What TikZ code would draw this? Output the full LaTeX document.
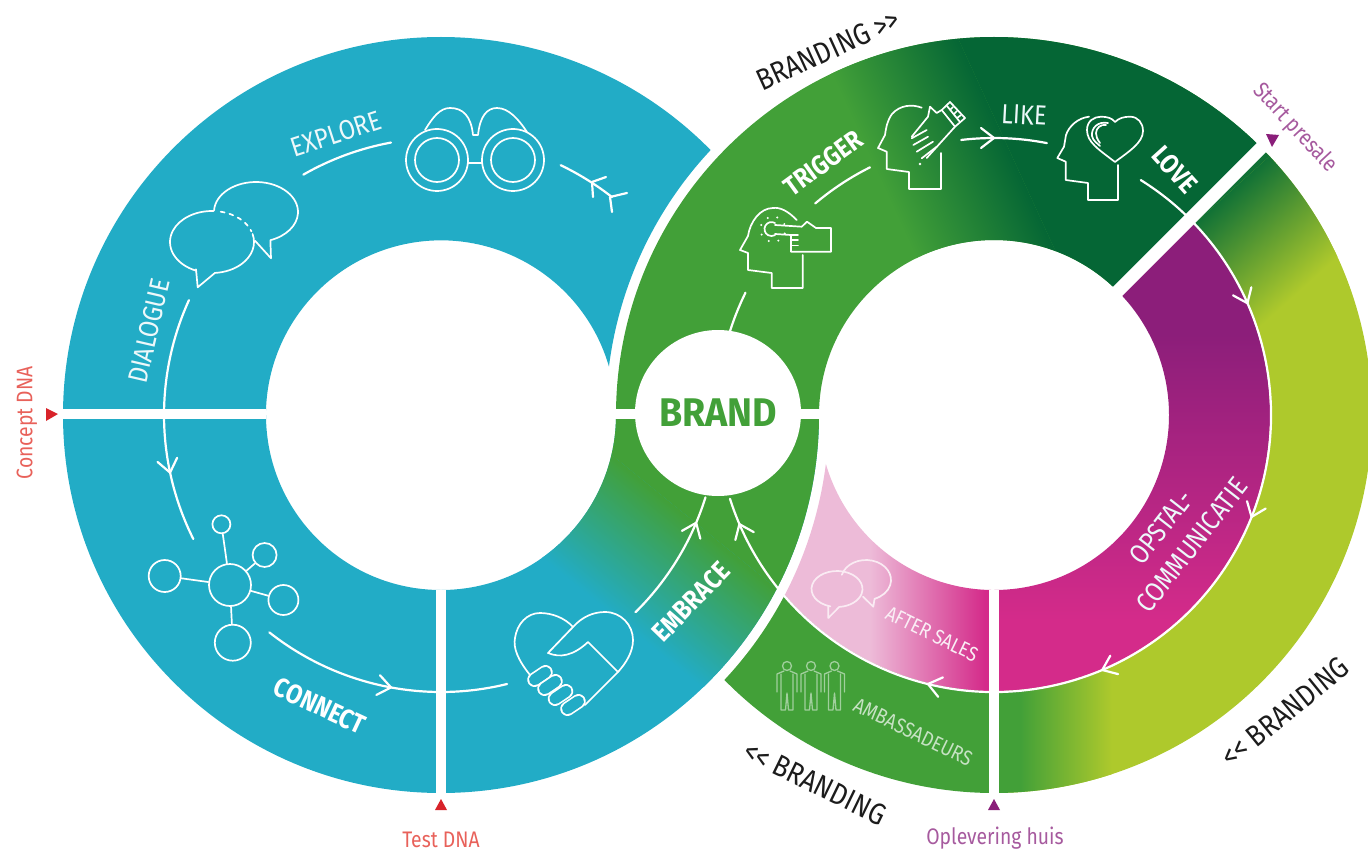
\documentclass[tikz,border=0pt]{standalone}
\usepackage{fontspec}
\setmainfont{Fira Sans}
\newfontfamily\labelFont[FakeStretch=0.86]{Fira Sans}
\newfontfamily\brandFont[FakeStretch=0.94]{Fira Sans}
\definecolor{tealRing}{HTML}{22ACC6}
\definecolor{greenRing}{HTML}{42A038}
\definecolor{darkRing}{HTML}{056635}
\definecolor{limeRing}{HTML}{AEC92C}
\definecolor{purpleRing}{HTML}{8C1E7A}
\definecolor{magentaRing}{HTML}{D42B8A}
\definecolor{paleRing}{HTML}{EDBBD8}
\definecolor{redMark}{HTML}{D8232A}
\definecolor{redText}{HTML}{E8615A}
\definecolor{purpleMark}{HTML}{8A1E7A}
\definecolor{purpleText}{HTML}{A65A9E}
\definecolor{inkText}{HTML}{1C1C1C}

\begin{document}
\begin{tikzpicture}
[x=1pt,y=-1pt,%
  flowLine/.style={draw=white,line width=2.2pt,line cap=round},%
  iconLine/.style={draw=white,line width=1.7pt,line join=round,line cap=round},%
  gapLine/.style={draw=white,line width=10pt},%
  netNode/.style={shape=circle,draw=white,line width=1.7pt,inner sep=0pt},%
  flowLabel/.style={text=white!92!tealRing,inner sep=0pt,font=\labelFont\fontsize{27.5}{29}\selectfont},%
  boldLabel/.style={text=white,inner sep=0pt,font=\labelFont\bfseries\fontsize{27}{29}\selectfont},%
  brandingLabel/.style={text=inkText,inner sep=0pt,font=\labelFont\fontsize{30}{32}\selectfont},%
  markLabel/.style={inner sep=0pt,font=\labelFont\fontsize{22.5}{24}\selectfont}]
\useasboundingbox (0,0) rectangle (1368,853);
\coordinate (leftC) at (441,415);
\coordinate (rightC) at (994,415);

%% left ring, upper half
\fill[tealRing] (leftC) ++(180:378) arc (180:315.5:378) arc (223.1:187.2:388) arc (343.8:180:175) -- cycle;

%% left ring, lower half into the green
\begin{scope}
\clip (leftC) ++(0:378) arc (0:180:378) -- ++(0:203) arc (180:0:175) -- cycle;
\fill[tealRing] (40,400) rectangle (840,800);
\shade[transform canvas={shift={(680,590)},rotate=51},left color=tealRing,right color=greenRing] (-62,-500) rectangle (62,500);
\fill[transform canvas={shift={(680,590)},rotate=51},greenRing] (62,-500) rectangle (500,500);
\end{scope}

%% right ring, upper arc
\begin{scope}
\clip (rightC) ++(180:378) arc (180:315:378) -- ++(135:203) arc (315:180:175) -- cycle;
\fill[greenRing] (600,0) rectangle (1300,430);
\shade[transform canvas={shift={(940,155)},rotate=24.6},left color=greenRing,right color=darkRing] (-65,-500) rectangle (65,500);
\fill[transform canvas={shift={(940,155)},rotate=24.6},darkRing] (65,-500) rectangle (600,500);
\end{scope}

%% right ring, outer band
\begin{scope}
\clip (rightC) ++(315:378) arc (315:450:378) -- ++(270:102) arc (90:-45:276) -- cycle;
\fill[limeRing] (980,100) rectangle (1400,800);
\fill[greenRing] (980,600) rectangle (1020,800);
\shade[left color=greenRing,right color=limeRing] (1020,600) rectangle (1112,800);
\shade[transform canvas={shift={(1275,232)},rotate=-48},left color=darkRing!80!greenRing,right color=limeRing] (-60,-150) rectangle (60,150);
\fill[transform canvas={shift={(1275,232)},rotate=-48},darkRing!80!greenRing] (-60,-150) rectangle (-170,150);
\end{scope}

%% right ring, inner band
\begin{scope}
\clip (rightC) ++(315:276) arc (315:450:276) -- ++(270:101) arc (90:-45:175) -- cycle;
\fill[purpleRing] (980,150) rectangle (1400,335);
\shade[top color=purpleRing,bottom color=magentaRing] (980,335) rectangle (1400,620);
\fill[magentaRing] (980,620) rectangle (1400,720);
\end{scope}

%% right ring, lower left pieces
\fill[greenRing] (rightC) ++(90:378) arc (90:135.5:378) arc (43.1:27.6:388) arc (139.3:90:276) -- cycle;
\begin{scope}
\clip (rightC) ++(90:276) arc (90:139.3:276) arc (27.6:7.2:388) arc (163.8:90:175) -- cycle;
\fill[paleRing] (760,450) rectangle (870,700);
\shade[left color=paleRing,right color=magentaRing] (870,450) rectangle (985,700);
\fill[magentaRing] (985,450) rectangle (1000,700);
\end{scope}

%% flow lines
\foreach \ringname/\startangle/\endangle in {leftC/204.5/153.4, leftC/128.3/76.2,
  leftC/45.4/17.3, leftC/240.2/259.6, leftC/295.6/308.1,
  rightC/197.5/206.2, rightC/229.8/243.4, rightC/263.2/281}
{
  \draw[flowLine] (\ringname) ++(\startangle:277) arc (\startangle:\endangle:277);
}
\draw[flowLine] (rightC) ++(302:277) arc (302:522.4:277);
%% arrow marks on the flow lines, dir is 1 with the clock
\foreach \ringname/\angle/\dir in {leftC/168/-1, leftC/100.4/-1, leftC/22.9/-1,
  rightC/270/1, rightC/336.2/1, rightC/21.6/1, rightC/67/1, rightC/103.8/1, rightC/156.8/1}
{
  \draw[flowLine,shift={(\ringname)},rotate=-\angle] (287,-13*\dir) -- (277,0) -- (267,-13*\dir);
}
%% feathers
\draw[flowLine] (592,182) -- (606,177) (592,182) -- (593,197) (610,197) -- (627,193) (610,197) -- (612,212);

%% white gaps
\coordinate (gapA) at (50,414);
\coordinate (gapB) at (266,414);
\coordinate (gapC) at (441,590);
\coordinate (gapD) at (441,800);
\coordinate (gapE) at (994,590);
\coordinate (gapF) at (994,800);
\coordinate (gapG) at (612,414);
\coordinate (gapH) at (824,414);
\draw[gapLine] (gapA) -- (gapB);
\draw[gapLine] (gapC) -- (gapD);
\draw[gapLine] (gapE) -- (gapF);
\draw[gapLine] (gapG) -- (gapH);
\draw[gapLine,line width=13pt] (rightC) ++(315:170) -- ++(315:230);

%% centre
\node (brand) at (718,413) [shape=circle,fill=white,minimum size=166pt,inner sep=0pt,text=greenRing,font=\brandFont\bfseries\fontsize{40}{42}\selectfont] {BRAND};

%% binoculars
\foreach \x in {437,513}
{
  \draw[iconLine] (\x,160) circle (31);
  \draw[iconLine] (\x,160) circle (22);
}
\draw[iconLine] (468,163) -- (482,163);
\draw[iconLine] (425,130) .. controls (433,117) and (440,108) .. (450,108) .. controls (463,108) and (471,116) .. (473,135) -- (478,135) .. controls (480,116) and (487,108) .. (497,108) .. controls (509,108) and (519,120) .. (527,132);

%% speech bubbles
\draw[iconLine] (212,242) ++(112:42 and 31) arc (112:272:42 and 31);
\draw[iconLine,dash pattern=on 4pt off 5pt] (212,242) ++(282:42 and 31) arc (282:340:42 and 31);
\draw[iconLine] (212,242) ++(345:42 and 31) arc (345:446:42 and 31) -- (197.7,287.3) -- (196,269.3);
\draw[iconLine] (256,212) ++(183:42 and 30) arc (183:430:42 and 30) -- (271,258.3) -- (255,240.7);

%% network
\foreach \nodename/\x/\y/\size in {hub/230/585/42, netA/221.4/524.3/18, netB/264.6/555/24, netC/283.4/600/30, netD/232.8/642.7/36, netE/164.7/576/32}
{
  \node (\nodename) at (\x,\y) [netNode,minimum size=\size pt] {};
}
\foreach \endnode in {netA,netB,netC,netD,netE}
{
  \draw[iconLine] (hub) -- (\endnode);
}

%% handshake
\draw[iconLine] (530,675) .. controls (518,660) and (513,648) .. (515,638) .. controls (517,624) and (527,613) .. (540,613) .. controls (552,613) and (565,618) .. (573,627) .. controls (582,617) and (593,612) .. (605,612) .. controls (621,612) and (633,625) .. (633,640) .. controls (633,652) and (626,663) .. (618,672) -- (585,705);
\draw[iconLine] (573,627) -- (548,653) .. controls (560,658) and (573,656) .. (588,642) -- (618,672);
\foreach \x/\y in {540/676, 550/685, 560.5/695, 573/705}
{
  \draw[draw=white,line width=14.5pt,line cap=round] (\x-5.5,\y+3.7) -- (\x+5.5,\y-3.7);
  \draw[draw=tealRing,line width=11.1pt,line cap=round] (\x-5.5,\y+3.7) -- (\x+5.5,\y-3.7);
}

%% head with finger
\draw[iconLine] (796.7,220) .. controls (788,211) and (780,207) .. (773,208) .. controls (760,208) and (750,222) .. (748,236) -- (740,250) -- (748,253) -- (748,270) -- (771.7,273) -- (771.7,288) -- (802.7,288) -- (802.7,255);
\draw[iconLine] (775,225) -- (801.7,226.7) -- (807,221.7) -- (816,228) -- (831,228) -- (831,251.7) -- (791,251.7) -- (791,235) -- (775,234);
\draw[iconLine] (791,240) -- (798,240) (791,245.5) -- (798,245.5) (791,235) -- (798,235);
\draw[iconLine] (775,223) arc (-60:-300:7);
\foreach \angle in {0,45,...,315}
{
  \fill[white] (773,229.3) ++(\angle+20:12.5) circle (1.1);
}

%% head with glove
\draw[iconLine] (921.7,107.7) .. controls (912,104) and (900,105) .. (892,114) .. controls (887,121) and (886,128) .. (885,135) -- (878,148) -- (886.7,151.7) -- (886.7,169) -- (909,172) -- (909,189) -- (941,189) -- (941,153);
\draw[iconLine] (950,102) -- (965,118) -- (955,126.7) -- (926.7,158);
\draw[iconLine] (950,102) -- (941.7,110) -- (955,126.7);
\draw[iconLine] (930,106.7) -- (936.7,113) -- (941.7,110) (930,106.7) -- (928,116.7) -- (911.7,136.7);
\draw[iconLine] (947,106) -- (960,122) (950,110) -- (953,107) (954,114) -- (957,111) (957,118) -- (961,115);
\draw[iconLine] (926.7,130) -- (911.7,138.3) (928,136.7) -- (913.3,145) (933,141.7) -- (916.7,151.7) (936.7,146.7) -- (921.7,158.3);
\fill[white] (920,164) circle (1.3);

%% head with heart
\draw[iconLine] (1089,116.7) .. controls (1078,118) and (1069,126) .. (1066,135) -- (1064,146.7) -- (1057.3,158) -- (1065.7,161.7) -- (1065.7,180) -- (1088,183) -- (1088,200) -- (1118,200) -- (1118,165);
\draw[iconLine] (1115,162) .. controls (1098,149) and (1087,142) .. (1087,130) .. controls (1087,121) and (1094,116.7) .. (1101,116.7) .. controls (1107,116.7) and (1112,118) .. (1115,122) .. controls (1119,118) and (1124,116.7) .. (1130,116.7) .. controls (1138,116.7) and (1143,123) .. (1143,131) .. controls (1143,143) and (1128,152) .. (1115,162);
\draw[iconLine] (1108,123) .. controls (1098,121) and (1091,128) .. (1092,136) .. controls (1093,141) and (1097,143) .. (1100,146);
\draw[iconLine] (1106,125) .. controls (1101,124) and (1096,128) .. (1096,133) .. controls (1096,136) and (1097,139) .. (1100,143);

%% after sales bubbles
\draw[iconLine,draw=white!70!paleRing] (837,589) ++(105:25.5 and 18) arc (105:445:25.5 and 18) -- (828.3,618) -- (828.3,606);
\draw[iconLine,draw=white!70!paleRing] (866,580) ++(195:25 and 20) arc (195:430:25 and 20) -- (873.3,606.7) -- (863,596.7);

%% ambassadors
\foreach \x in {787,811,834.5}
{
  \begin{scope}[shift={(\x,666)}]
    \draw[iconLine,draw=white!50!greenRing,line width=1.3pt] (0,0) circle (4.5);
    \draw[iconLine,draw=white!50!greenRing,line width=1.3pt] (-3,5) -- (-10,8) -- (-10,26) (3,5) -- (10,8) -- (10,26);
    \draw[iconLine,draw=white!50!greenRing,line width=1.3pt] (-6,8) -- (-6,44) -- (-1.5,44) -- (0,27) -- (1.5,44) -- (6,44) -- (6,8);
  \end{scope}
}

%% labels on the rings
\node (explore) at (336,134) [flowLabel,rotate=18] {EXPLORE};
\node (dialogue) at (149,331) [flowLabel,rotate=77] {DIALOGUE};
\node (connect) at (320,706) [boldLabel,rotate=-25] {CONNECT};
\node (embrace) at (691,602) [boldLabel,rotate=46] {EMBRACE};
\node (trigger) at (823,163) [boldLabel,rotate=36] {TRIGGER};
\node (like) at (1024,115) [flowLabel,rotate=-3] {LIKE};
\node (love) at (1175,170) [boldLabel,rotate=-48] {LOVE};
\node (opstal) at (1161,527) [flowLabel,rotate=52] {OPSTAL-};
\node (communicatie) at (1192,545) [flowLabel,rotate=52] {COMMUNICATIE};
\node (aftersales) at (932,634) [flowLabel,rotate=-26,text=white!75!paleRing,font=\labelFont\fontsize{20.5}{22}\selectfont] {AFTER SALES};
\node (ambassadeurs) at (913,732) [flowLabel,rotate=-26,text=white!70!greenRing,font=\labelFont\fontsize{21}{23}\selectfont] {AMBASSADEURS};

%% labels outside
\node (brandA) at (828,50) [brandingLabel,rotate=24.5] {BRANDING >>};
\node (brandB) at (815,783) [brandingLabel,rotate=-26] {<< BRANDING};
\node (brandC) at (1285,712) [brandingLabel,rotate=39] {<< BRANDING};
\node (conceptdna) at (27,423) [markLabel,rotate=90,text=redText] {Concept DNA};
\node (testdna) at (441,840) [markLabel,text=redText] {Test DNA};
\node (oplevering) at (995,838) [markLabel,text=purpleText] {Oplevering huis};
\node (presale) at (1295,128) [markLabel,rotate=-47,text=purpleText] {Start presale};

%% marks
\fill[redMark] (46,408) -- (58,414) -- (46,421) -- cycle;
\fill[redMark] (441,799) -- (447,810) -- (435,810) -- cycle;
\fill[purpleMark] (994,799) -- (1000,810) -- (988,810) -- cycle;
\fill[purpleMark] (1266,134) -- (1279,135) -- (1272,147) -- cycle;
\end{tikzpicture}
\end{document}
